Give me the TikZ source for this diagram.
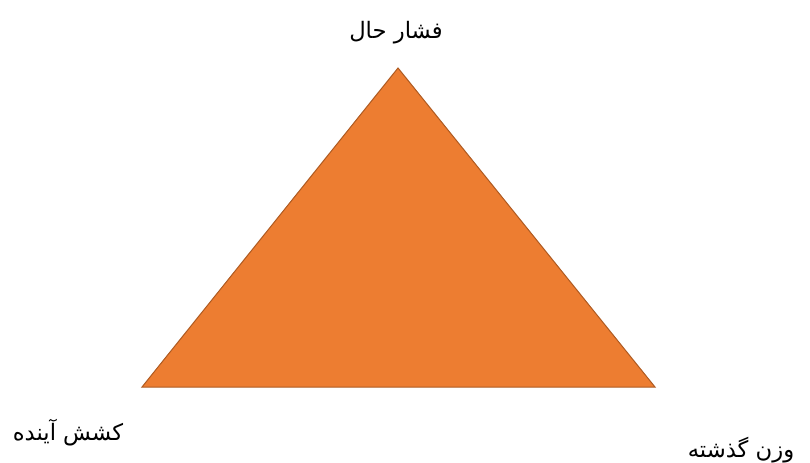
\documentclass[tikz,border=0pt]{standalone}
\usepackage{fontspec}
\newfontfamily\farsifont[Script=Arabic]{DejaVu Sans}
\TeXXeTstate=1
\usetikzlibrary{positioning}
\definecolor{triorange}{HTML}{ED7D31}
\definecolor{triedge}{HTML}{AE5A21}

\begin{document}
\begin{tikzpicture}[x=0.75pt, y=-0.75pt, font=\farsifont\fontsize{17}{20}\selectfont]
    \useasboundingbox (0,0) rectangle (810,463);
    \coordinate (apex) at (398,68);
    \coordinate (bleft) at (142,387);
    \coordinate (bright) at (655,387);
    \draw[triedge, fill=triorange, line width=0.75pt] (apex) -- (bleft) -- (bright) -- cycle;
    \node[anchor=base] (present) at (396,39) {\beginR فشار حال\endR};
    \node[anchor=base] (future) at (68,440) {\beginR کشش آینده\endR};
    \node[anchor=base] (past) at (741,457) {\beginR وزن گذشته\endR};
\end{tikzpicture}
\end{document}
